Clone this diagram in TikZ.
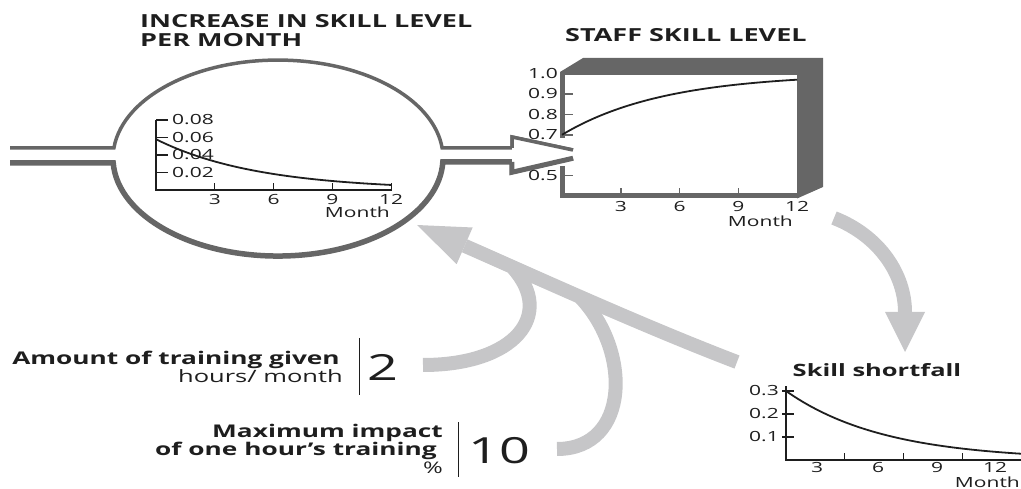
\documentclass[tikz,border=0pt]{standalone}
\usepackage{fontspec}
\setmainfont{Open Sans}[FakeStretch=1.5]
\usetikzlibrary{arrows.meta}
\definecolor{framegray}{HTML}{666666}
\definecolor{flowgray}{HTML}{C6C6C8}
\definecolor{ink}{HTML}{1E1E1E}
\newcommand{\headfont}{\fontsize{18}{20}\selectfont\bfseries}
\newcommand{\inputfont}{\fontsize{17.5}{20}\selectfont}
\newcommand{\tickfont}{\fontsize{14}{16}\selectfont}
\newcommand{\numfont}{\fontsize{36}{40}\selectfont}

\begin{document}
\begin{tikzpicture}[x=1pt, y=-1pt,
    heading/.style={font=\headfont, text=ink, inner sep=0pt, anchor=base west},
    inputlbl/.style={font=\inputfont\bfseries, text=ink, inner sep=0pt, anchor=base east},
    ticklbl/.style={font=\tickfont, text=ink, inner sep=0pt},
    axisline/.style={draw=ink, line width=1.3pt},
    graytick/.style={draw=framegray, line width=1.5pt},
    curve/.style={draw=ink, line width=1.8pt},
    pipe/.style={draw=framegray, line width=3.5pt},
    flowarrow/.style={draw=flowgray, line width=14pt},
    flowtip/.style={-{Triangle[length=#1, width=40pt, line width=0pt]}},
    divider/.style={draw=ink, line width=1pt}]
\useasboundingbox (0,0) rectangle (1021,489);

% gray flow arrows
\coordinate (skill-out) at (834,218);
\coordinate (gap-in) at (905,352);
\coordinate (gap-out) at (737,362);
\coordinate (lens-in) at (417,225);
\coordinate (hours-out) at (423,365);
\coordinate (impact-out) at (557,449);
\coordinate (merge-a) at (513,268);
\coordinate (merge-b) at (579,296);
\draw[flowarrow, flowtip=40pt] (skill-out) .. controls (880,236) and (905,275) .. (gap-in);
\draw[flowarrow, flowtip=52pt] (gap-out) .. controls (640,325) and (520,270) .. (lens-in);
\draw[flowarrow] (hours-out) .. controls (515,365) and (555,315) .. (merge-a);
\draw[flowarrow] (impact-out) .. controls (630,449) and (632,350) .. (merge-b);

% titles
\node[heading] (rate-title1) at (140,28) {INCREASE IN SKILL LEVEL};
\node[heading] (rate-title2) at (140,47) {PER MONTH};
\node[heading] (level-title) at (565,42) {STAFF SKILL LEVEL};

% lens with pipes
\draw[pipe] (10,148) -- (113.9,148) arc[start angle=185.9, end angle=354.1, x radius=165, y radius=98] -- (512,148) -- (512,137) -- (573,150);
\draw[pipe, line width=5.5pt] (10,163) -- (113.2,163) arc[start angle=177.1, end angle=2.3, x radius=165, y radius=98] -- (512,162) -- (512,172) -- (573,158);

% chart in the lens
\draw[axisline] (156,120) -- (156,190) -- (392,190);
\foreach \y in {120,137.5,155,172.5} \draw[axisline] (156,\y) -- (168,\y);
\foreach \v/\y [count=\i] in {0.08/120,0.06/137.5,0.04/155,0.02/172.5}
  \node[ticklbl, anchor=west] (rate\i) at (172,\y) {\v};
\foreach \m [count=\i] in {3,6,9,12} {
  \draw[axisline] ({156+19.6*\m},190) -- ({156+19.6*\m},183);
  \node[ticklbl, anchor=north] (rate-m\i) at ({156+19.6*\m},194) {\m};
}
\node[ticklbl, anchor=base east] (rate-month) at (390,218) {Month};
\draw[curve] plot[domain=0:12, samples=40] ({156+19.6*\x},{190-50.75*exp(-\x/5.2)});

% staff skill level box
\fill[framegray] (560,75) -- (560,72) -- (583,58) -- (823,58) -- (823,187) -- (797,198.5) -- (797,75) -- cycle;
\draw[framegray, line width=5pt] (562.5,72) -- (562.5,138) (562.5,166) -- (562.5,198.5);
\draw[framegray, line width=5pt] (560,196) -- (799,196);
\foreach \v/\y [count=\i] in {1.0/73.6,0.9/94,0.8/114.4,0.7/134.8,0.5/175.6}
  \node[ticklbl, anchor=east] (level\i) at (558,\y) {\v};
\foreach \y in {94,114.4,134.8,175.6} \draw[graytick] (564,\y) -- (573,\y);
\foreach \m [count=\i] in {3,6,9,12} {
  \ifnum\m<12 \draw[graytick] ({562+19.6*\m},196) -- ({562+19.6*\m},188); \fi
  \node[ticklbl, anchor=north] (level-m\i) at ({562+19.6*\m},201) {\m};
}
\node[ticklbl, anchor=base east] (level-month) at (793,227) {Month};
\draw[curve] plot[domain=0:12, samples=40] ({562+19.6*\x},{196-204*(0.6-0.3*exp(-\x/5.2))});

% arrow mouth into the box
\fill[white] (512,148) -- (512,137) -- (573,150) -- (573,158) -- (512,172) -- (512,162) -- cycle;
\draw[pipe] (512,148) -- (512,137) -- (573,150);
\draw[pipe, line width=4.5pt] (512,162) -- (512,172) -- (573,158);

% skill shortfall chart
\node[font=\fontsize{17}{19}\selectfont\bfseries, text=ink, inner sep=0pt, anchor=base] (gap-title) at (877,377) {Skill shortfall};
\draw[axisline] (786,386) -- (786,460) -- (1021,460);
\foreach \y in {391,414,437} \draw[axisline] (782,\y) -- (794,\y);
\foreach \v/\y [count=\i] in {0.3/391,0.2/414,0.1/437}
  \node[ticklbl, anchor=east] (gap\i) at (779,\y) {\v};
\foreach \m in {3,6,9} \draw[axisline] ({786+19.6*\m},460) -- ({786+19.6*\m},453);
\foreach \m/\xx [count=\i] in {3/817,6/878,9/937,12/995}
  \node[ticklbl, anchor=north] (gap-m\i) at (\xx,462) {\m};
\node[ticklbl, anchor=base east] (gap-month) at (1020,487) {Month};
\draw[curve] plot[domain=0:12, samples=40] ({786+19.6*\x},{460-69*exp(-\x/5)});

% inputs
\node[inputlbl] (hours-name) at (340,364) {Amount of training given};
\node[font=\fontsize{17}{20}\selectfont, text=ink, inner sep=0pt, anchor=base east] (hours-unit) at (343,382) {hours/ month};
\draw[divider] (359,338) -- (359,395);
\node[font=\numfont, text=ink, inner sep=0pt, anchor=base west] (hours-value) at (367,380) {2};
\node[inputlbl] (impact-name1) at (443,437) {Maximum impact};
\node[inputlbl] (impact-name2) at (437,455) {of one hour’s training};
\node[font=\fontsize{16}{18}\selectfont, text=ink, inner sep=0pt, anchor=base east] (impact-unit) at (443,473) {\%};
\draw[divider] (458,422) -- (458,477);
\node[font=\numfont, text=ink, inner sep=0pt, anchor=base west] (impact-value) at (468,463) {10};
\end{tikzpicture}
\end{document}
